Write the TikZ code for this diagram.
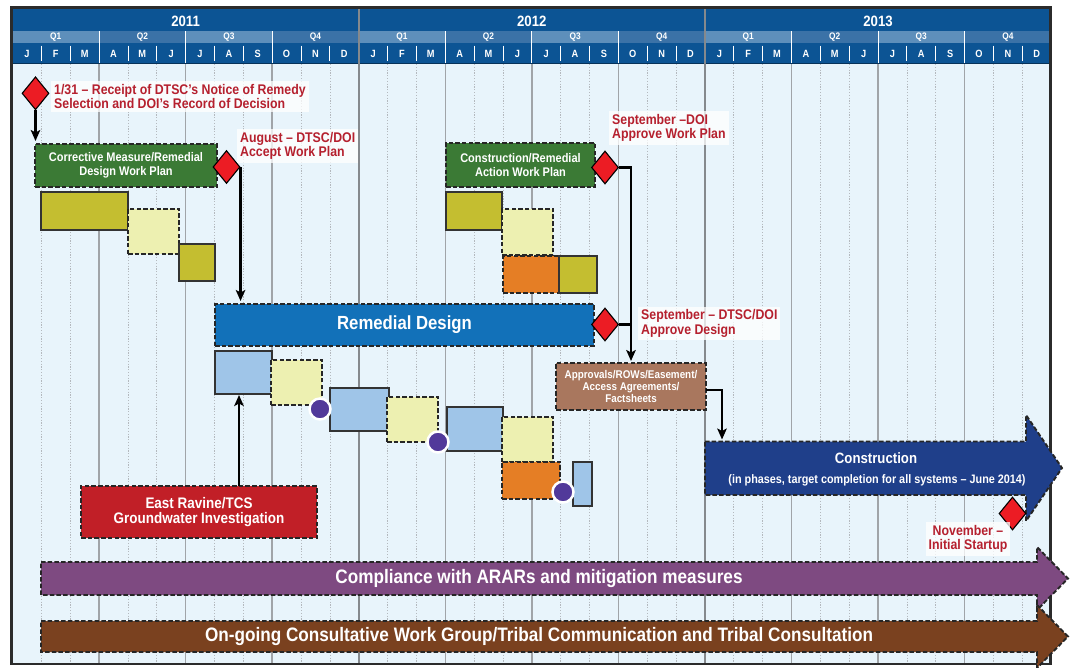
\documentclass[tikz,border=0pt]{standalone}
\usepackage{fontspec}
\setmainfont{Liberation Sans}[FakeStretch=0.88]
\usetikzlibrary{shapes.geometric,arrows.meta}
\newcommand\fsz[2]{\fontsize{#1}{#2}\selectfont\bfseries}
\definecolor{hdr}{HTML}{0C5494}
\definecolor{qlight}{HTML}{5E8FBB}
\definecolor{qdark}{HTML}{3B72A7}
\definecolor{bodybg}{HTML}{E8F4FB}
\definecolor{framec}{HTML}{2B2B2B}
\definecolor{gwp}{HTML}{3B7A35}
\definecolor{olive}{HTML}{C4BE30}
\definecolor{lyel}{HTML}{EDF0B1}
\definecolor{orng}{HTML}{E57E25}
\definecolor{lblue}{HTML}{9FC5E8}
\definecolor{dotp}{HTML}{51399A}
\definecolor{redbox}{HTML}{C11F27}
\definecolor{tan}{HTML}{A9775E}
\definecolor{rdblue}{HTML}{1271B9}
\definecolor{navy}{HTML}{1F3F8A}
\definecolor{compl}{HTML}{7E4A81}
\definecolor{brwn}{HTML}{7A411F}
\definecolor{lblred}{HTML}{B5202E}
\definecolor{diam}{HTML}{EC1C24}
\definecolor{gridm}{HTML}{B4B9BE}
\definecolor{gridq}{HTML}{A0A4A8}
\definecolor{gridy}{HTML}{85898D}
\begin{document}
\begin{tikzpicture}[x=1pt,y=-1pt,
  dbox/.style={draw=black!85,line width=1.9pt,dash pattern=on 4.5pt off 2.2pt,inner sep=0pt,outer sep=0pt,text=white,align=center,anchor=north west},
  dline/.style={draw=black!85,line width=1.9pt,dash pattern=on 4.5pt off 2.2pt},
  sbox/.style={draw=black!80,line width=1.2pt,inner sep=0pt,outer sep=0pt,anchor=north west},
  conn/.style={line width=2.2pt,-{Stealth[length=11pt,width=9.5pt,inset=2.5pt]}},
  link/.style={line width=2.2pt},
  ms/.style={diamond,draw=black,line width=1.1pt,fill=diam,minimum width=27pt,minimum height=33pt,inner sep=0pt},
  lbl/.style={fill=white,fill opacity=0.75,text opacity=1,text=lblred,align=left,inner sep=3pt,font=\fsz{14}{14.5}},
  dot/.style={circle,fill=dotp,draw=white,line width=2.5pt,minimum size=21pt,inner sep=0pt},
  hdrtxt/.style={text=white,inner sep=0pt}
]
\useasboundingbox (0,0) rectangle (1070,667);
\def\w{28.85}
% body and header backgrounds
\fill[bodybg] (12.5,63) rectangle (1051,664);
\fill[hdr] (12.5,8) rectangle (1051,63);
\foreach \q in {0,...,11}{
  \pgfmathtruncatemacro\e{mod(\q,2)}
  \ifnum\e=0 \def\qc{qlight}\else\def\qc{qdark}\fi
  \fill[\qc] (12.5+3*\q*\w,31) rectangle (12.5+3*\q*\w+3*\w,43);
}
\draw[hdr!60!black,line width=1.2pt] (12.5,63.5) -- (1051,63.5);
% grid
\foreach \i in {1,...,35}{
  \pgfmathsetmacro\xx{12.5+\i*\w}
  \pgfmathtruncatemacro\m{mod(\i,3)}
  \pgfmathtruncatemacro\yr{mod(\i,12)}
  \ifnum\yr=0
    \draw[gridy,line width=2pt] (\xx,8) -- (\xx,663);
  \else\ifnum\m=0
    \draw[gridq,line width=1.5pt] (\xx,64) -- (\xx,663);
    \draw[white,line width=1pt] (\xx,31) -- (\xx,63);
  \else
    \draw[gridm,line width=0.7pt,dash pattern=on 1.2pt off 1.6pt] (\xx,64) -- (\xx,663);
    \draw[white,line width=0.8pt] (\xx,45.5) -- (\xx,60.5);
  \fi\fi
}
% header labels
\foreach \y [count=\k from 0] in {2011,2012,2013}
  \node[hdrtxt,font=\fsz{15}{16}] (yr\k) at (12.5+6*\w+12*\k*\w,21) {\y};
\foreach \q in {0,...,11}{
  \pgfmathtruncatemacro\qn{mod(\q,4)+1}
  \node[hdrtxt,font=\fsz{9.5}{10}] (q\q) at (12.5+3*\q*\w+1.5*\w,37) {Q\qn};
}
\foreach \l [count=\i from 0] in {J,F,M,A,M,J,J,A,S,O,N,D,J,F,M,A,M,J,J,A,S,O,N,D,J,F,M,A,M,J,J,A,S,O,N,D}
  \node[hdrtxt,font=\fsz{10.5}{11}] (m\i) at (12.5+\i*\w+0.5*\w,53.5) {\l};
% frame
\draw[framec,line width=2.5pt] (11.5,7.5) rectangle (1050.5,664);

% work plan boxes
\node[dbox,fill=gwp,minimum width=182pt,minimum height=43pt,font=\fsz{12.5}{13.5}] (gw1) at (35,144) {Corrective Measure/Remedial\\Design Work Plan};
\node[sbox,fill=olive,minimum width=87pt,minimum height=38pt] (o1) at (41,192) {};
\node[dbox,fill=lyel,minimum width=51pt,minimum height=45pt] (y1) at (128,209) {};
\node[sbox,fill=olive,minimum width=36pt,minimum height=37pt] (o2) at (179,244) {};

\node[dbox,fill=gwp,minimum width=149pt,minimum height=44pt,font=\fsz{12.5}{13.5}] (gw2) at (446,143) {Construction/Remedial\\Action Work Plan};
\node[sbox,fill=olive,minimum width=56pt,minimum height=38pt] (o3) at (446,192) {};
\node[dbox,fill=lyel,minimum width=51pt,minimum height=46pt] (y2) at (502,209) {};
\node[dbox,fill=orng,minimum width=56pt,minimum height=37pt] (or1) at (503,256) {};
\node[sbox,fill=olive,minimum width=38pt,minimum height=37pt] (o4) at (559,256) {};

% remedial design
\node[dbox,fill=rdblue,minimum width=379pt,minimum height=42pt,font=\fsz{19}{21}] (rd) at (215,304) {Remedial Design};
\node[sbox,fill=lblue,minimum width=57pt,minimum height=43pt] (lb1) at (215,351) {};
\node[dbox,fill=lyel,minimum width=51pt,minimum height=45pt] (y3) at (271,360) {};
\node[sbox,fill=lblue,minimum width=59pt,minimum height=43pt] (lb2) at (330,388) {};
\node[dbox,fill=lyel,minimum width=51pt,minimum height=45pt] (y4) at (387,397) {};
\node[sbox,fill=lblue,minimum width=56pt,minimum height=44pt] (lb3) at (447,407) {};
\node[dbox,fill=lyel,minimum width=51pt,minimum height=45pt] (y5) at (502,417) {};
\node[dbox,fill=orng,minimum width=58pt,minimum height=37pt] (or2) at (502,462) {};
\node[sbox,fill=lblue,minimum width=19pt,minimum height=44pt] (lb4) at (573,462) {};
\node[dot] (c1) at (320,409) {};
\node[dot] (c2) at (438,442) {};
\node[dot] (c3) at (563,492) {};

\node[dbox,fill=redbox,minimum width=236pt,minimum height=52pt,font=\fsz{15.3}{15.8}] (er) at (81,486) {East Ravine/TCS\\Groundwater Investigation};
\node[dbox,fill=tan,minimum width=150pt,minimum height=47pt,font=\fsz{11.2}{12}] (ap) at (556,363) {Approvals/ROWs/Easement/\\Access Agreements/\\Factsheets};

% big arrows
\path[dline,fill=navy] (705,441.5) -- (1026,441.5) -- (1026,415) -- (1062,468) -- (1026,521) -- (1026,495) -- (705,495) -- cycle;
\node[text=white,inner sep=0pt,font=\fsz{15}{16}] (cons) at (876,458.5) {Construction};
\node[text=white,inner sep=0pt,font=\fsz{12.3}{13}] (consb) at (877,480.5) {(in phases, target completion for all systems – June 2014)};
\coordinate (consT) at (722,441.5);
\path[dline,fill=compl] (41,562) -- (1037,562) -- (1037,547) -- (1068,578.5) -- (1037,610) -- (1037,595) -- (41,595) -- cycle;
\node[text=white,inner sep=0pt,font=\fsz{19.5}{21}] (cmp) at (539,578.5) {Compliance with ARARs and mitigation measures};
\path[dline,fill=brwn] (41,621) -- (1037,621) -- (1037,605) -- (1068,636.5) -- (1037,668) -- (1037,652) -- (41,652) -- cycle;
\node[text=white,inner sep=0pt,font=\fsz{19.5}{21}] (trb) at (539,636.5) {On-going Consultative Work Group/Tribal Communication and Tribal Consultation};

% milestones
\node[ms] (d1) at (35.5,93.3) {};
\node[ms] (d2) at (226.5,167) {};
\node[ms] (d3) at (605,167.5) {};
\node[ms] (d4) at (605,324.5) {};
\node[ms] (d5) at (1012.5,513.5) {};

% connectors
\draw[conn,shorten >=3pt] (d1.south) -- (d1.south |- gw1.north);
\draw[conn,shorten >=3pt] (d2.east) -- (d2.east |- rd.north);
\draw[conn,shorten >=1pt] ([xshift=40pt]er.north) -- ([xshift=40pt]er.north |- lb1.south);
\draw[conn,shorten >=2pt] (d3.east) -| (ap.north);
\draw[link] (d4.east) -- (d4.east -| ap.north);
\draw[conn,shorten >=2pt] ([yshift=-3.5pt]ap.east) -| (consT);

% labels
\node[lbl,anchor=west] (t1) at (51,96.5) {1/31 – Receipt of DTSC’s Notice of Remedy\\Selection and DOI’s Record of Decision};
\node[lbl,anchor=west] (t2) at (237,146) {August – DTSC/DOI\\Accept Work Plan};
\node[lbl,anchor=west] (t3) at (609,128) {September –DOI\\Approve Work Plan};
\node[lbl,anchor=west] (t4) at (638,323.5) {September – DTSC/DOI\\Approve Design};
\node[lbl,align=center] (t5) at (968,539) {November –\\Initial Startup};
\end{tikzpicture}
\end{document}
